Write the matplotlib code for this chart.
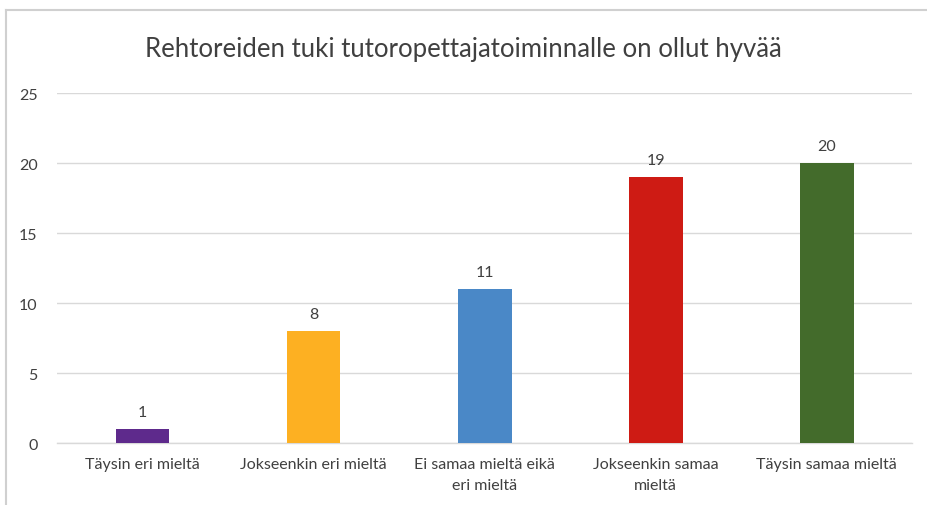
import matplotlib
matplotlib.use("Agg")
import matplotlib.pyplot as plt
from matplotlib.lines import Line2D

categories = ["Täysin eri mieltä", "Jokseenkin eri mieltä", "Ei samaa mieltä eikä\neri mieltä",
              "Jokseenkin samaa\nmieltä", "Täysin samaa mieltä"]
values = [1, 8, 11, 19, 20]
colors = ["#5E2A8C", "#FDB022", "#4A88C7", "#CE1B14", "#436B2B"]
yticks = [0, 5, 10, 15, 20, 25]
title = "Rehtoreiden tuki tutoropettajatoiminnalle on ollut hyvää"

plt.rcParams['font.family'] = ['Lato', 'DejaVu Sans']

fig = plt.figure(figsize=(9.27, 5.06), dpi=100)
ax = fig.add_axes([0.0615, 0.1225, 0.9225, 0.6915])

x = list(range(len(categories)))
bars = ax.bar(x, values, width=0.315, color=colors, zorder=3)
for xi, v in zip(x, values):
    ax.annotate(str(v), (xi, v), xytext=(0, 7), textcoords="offset points",
                ha="center", va="bottom", fontsize=11.5, color="#404040")

ax.set_xlim(-0.5, len(categories) - 0.5)
ax.set_ylim(0, 25)
ax.set_yticks(yticks)
ax.set_yticklabels([str(t) for t in yticks], fontsize=11.5, color="#404040")
ax.set_xticks(x)
ax.set_xticklabels(categories, fontsize=11.5, color="#404040", linespacing=1.6)
ax.tick_params(axis="both", length=0, pad=10)
ax.tick_params(axis="y", pad=14)
ax.grid(axis="y", color="#D9D9D9", linewidth=1, zorder=0)
for s in ["top", "right", "left"]:
    ax.spines[s].set_visible(False)
ax.spines["bottom"].set_color("#D9D9D9")
ax.spines["bottom"].set_linewidth(1)

fig.text(0.5, 1 - 49 / 506, title, ha="center", va="center", fontsize=18.5, color="#404040")

# chart frame (left and top edges)
fig.add_artist(Line2D([6 / 927, 6 / 927], [0, 1 - 11 / 506], transform=fig.transFigure,
                      color="#D0D0D0", linewidth=1.5))
fig.add_artist(Line2D([6 / 927, 1], [1 - 11 / 506, 1 - 11 / 506], transform=fig.transFigure,
                      color="#D0D0D0", linewidth=1.5))

fig.savefig("out.png", dpi=100)
